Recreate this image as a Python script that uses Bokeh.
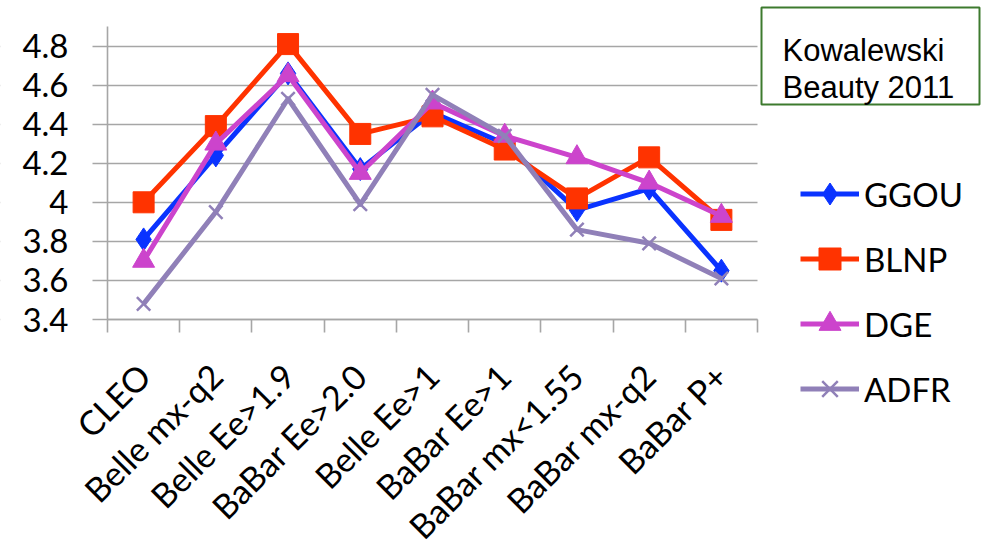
from bokeh.plotting import figure
from bokeh.models import (Range1d, FixedTicker, Legend, LegendItem, Label, BoxAnnotation)
from bokeh.embed import file_html
from bokeh.resources import INLINE
import math

categories = ["CLEO", "Belle mx-q2", "Belle Ee>1.9", "BaBar Ee>2.0", "Belle Ee>1",
              "BaBar Ee>1", "BaBar mx<1.55", "BaBar mx-q2", "BaBar P+"]
ggou = [3.81, 4.24, 4.66, 4.17, 4.46, 4.30, 3.96, 4.07, 3.65]
blnp = [4.00, 4.39, 4.81, 4.35, 4.44, 4.27, 4.02, 4.23, 3.91]
dge = [3.70, 4.30, 4.65, 4.15, 4.51, 4.34, 4.23, 4.10, 3.93]
adfr = [3.48, 3.95, 4.53, 3.99, 4.55, 4.34, 3.86, 3.79, 3.61]
y_ticks = [3.4, 3.6, 3.8, 4.0, 4.2, 4.4, 4.6, 4.8]
y_labels = ["3.4", "3.6", "3.8", "4", "4.2", "4.4", "4.6", "4.8"]
note_lines = ["Kowalewski", "Beauty 2011"]

FONT = "Lato"
GRID = "#a6a6a6"

W, H = 983, 557
LEFT = 107                 # pixel column of the value axis
Y_LO, Y_HI = 3.4, 4.9      # value axis extent
PX_TOP, PX_BOT = 26, 319   # pixel rows of Y_HI and Y_LO
NCAT = len(categories)
CAT_PX = 650 / NCAT        # width of one category (px)

ppu = (PX_BOT - PX_TOP) / (Y_HI - Y_LO)
y_range = Range1d(Y_LO - (H - PX_BOT) / ppu, Y_HI + PX_TOP / ppu)
x_range = Range1d(-LEFT / CAT_PX, (W - LEFT) / CAT_PX)

def px_x(px):
    return (px - LEFT) / CAT_PX

def px_y(py):
    return Y_HI - (py - PX_TOP) / ppu

xc = [i + 0.5 for i in range(NCAT)]

p = figure(width=W, height=H, output_backend="svg", toolbar_location=None,
           x_range=x_range, y_range=y_range,
           min_border_left=0, min_border_right=0, min_border_top=0,
           min_border_bottom=0)
p.outline_line_color = None
p.background_fill_color = "white"
p.border_fill_color = "white"

xa = p.xaxis[0]
xa.fixed_location = Y_LO
xa.bounds = (0, NCAT)
xa.ticker = FixedTicker(ticks=xc, minor_ticks=list(range(NCAT + 1)))
xa.major_label_overrides = {t: c for t, c in zip(xc, categories)}
xa.major_label_orientation = math.pi / 4
xa.major_label_text_font = FONT
xa.major_label_text_font_size = "34px"
xa.major_label_text_color = "black"
xa.major_label_standoff = 37
xa.major_tick_line_color = None
xa.major_tick_out = 13
xa.major_tick_in = 0
xa.minor_tick_out = 13
xa.minor_tick_in = 0
xa.minor_tick_line_color = GRID
xa.minor_tick_line_width = 1.6
xa.axis_line_color = GRID
xa.axis_line_width = 1.6

ya = p.yaxis[0]
ya.fixed_location = 0
ya.bounds = (Y_LO, Y_HI)
ya.ticker = FixedTicker(ticks=y_ticks, minor_ticks=[])
ya.major_label_overrides = {t: "" for t in y_ticks}
ya.major_label_standoff = 24
ya.major_tick_out = 15
ya.major_tick_in = 0
ya.major_tick_line_color = GRID
ya.major_tick_line_width = 1.6
ya.axis_line_color = GRID
ya.axis_line_width = 1.6

# right-aligned value labels next to the value axis ticks
for t, lab in zip(y_ticks, y_labels):
    p.add_layout(Label(x=px_x(LEFT - 39), y=t, text=lab, text_font=FONT,
                       text_font_size="33px", text_color="black",
                       text_align="right", text_baseline="middle"))

p.xgrid.grid_line_color = None
p.ygrid.ticker = FixedTicker(ticks=y_ticks)
p.ygrid.grid_line_color = GRID
p.ygrid.grid_line_width = 1.6

# white covers so that the grid only spans the category axis
p.add_layout(BoxAnnotation(left=NCAT, fill_color="white", fill_alpha=1.0,
                           line_color=None, level="underlay"))
p.add_layout(BoxAnnotation(right=0, fill_color="white", fill_alpha=1.0,
                           line_color=None, level="underlay"))

series = [
    ("GGOU", ggou, "#0a33ff", "diamond", 23),
    ("BLNP", blnp, "#ff3300", "square", 21),
    ("DGE", dge, "#cc44cc", "triangle", 22),
    ("ADFR", adfr, "#9080b8", "x", 19),
]
items = []
for name, vals, col, mk, sz in series:
    lr = p.line(xc, vals, line_width=5, line_color=col, line_join="round")
    if mk == "x":
        sr = p.scatter(xc, vals, marker=mk, size=sz, line_color=col, line_width=2.5)
    else:
        sr = p.scatter(xc, vals, marker=mk, size=sz, fill_color=col, line_color=col)
    items.append(LegendItem(label=name, renderers=[lr, sr]))

legend = Legend(items=items, location=(800, 141), orientation="vertical",
                glyph_width=59, glyph_height=55, label_height=55, spacing=10,
                label_standoff=5, padding=0, margin=0,
                label_text_font=FONT, label_text_font_size="33px",
                label_text_color="black", label_text_baseline="middle",
                border_line_color=None, background_fill_alpha=0)
p.add_layout(legend)

# note box (top right)
p.add_layout(BoxAnnotation(left=px_x(761), right=px_x(979), top=px_y(7), bottom=px_y(104),
                           fill_color="white", fill_alpha=1.0,
                           line_color="#3d7a2e", line_alpha=1.0, line_width=2))
p.add_layout(Label(x=px_x(782), y=px_y(50), text=note_lines[0], text_font="Liberation Sans",
                   text_font_size="31px", text_color="black", text_baseline="alphabetic"))
p.add_layout(Label(x=px_x(782), y=px_y(87), text=note_lines[1], text_font="Liberation Sans",
                   text_font_size="31px", text_color="black", text_baseline="alphabetic"))

open("out.html", "w").write(file_html(p, INLINE))
